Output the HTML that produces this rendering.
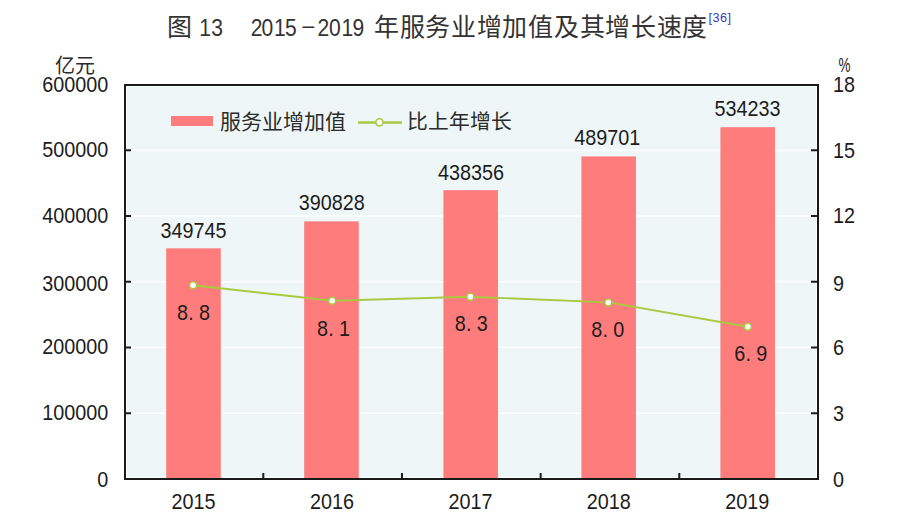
<!DOCTYPE html>
<html lang="zh-CN">
<head>
<meta charset="utf-8">
<title>图 13 2015-2019 年服务业增加值及其增长速度</title>
<style>
html,body{margin:0;padding:0;background:#fff;}
body{width:900px;height:528px;overflow:hidden;font-family:"Liberation Sans",sans-serif;}
svg{display:block;}
.m{font-family:"Liberation Sans",sans-serif;font-size:19.8px;fill:#1c1c1c;stroke:#1c1c1c;stroke-width:0px;}
.cjk{font-family:"Liberation Sans",sans-serif;fill:#2b2b2b;}
</style>
</head>
<body>
<svg width="900" height="528" viewBox="0 0 900 528">
  <g class="cjk" style="fill:#333">
    <text x="167.2" y="36" font-size="25" font-weight="350">图</text>
    <text transform="scale(0.9,1)" x="221.44 234.78" y="36.2 36.2" font-size="23.4">13</text>
    <text transform="scale(0.9,1)" x="278.67 290.67 304.44 316.56 336.11 352.67 365.67 379.44 391.56" y="36.2 36.2 36.2 36.2 32.9 36.2 36.2 36.2 36.2" font-size="23.4">2015–2019</text>

    <text x="374" y="35.5" font-size="25" letter-spacing="0.7" font-weight="350">年服务业增加值及其增长速度</text>
  </g>
  <text x="708.4" y="21.9" font-family="Liberation Sans" font-size="12.6" letter-spacing="0.55" fill="#3636c4">[36]</text>
  <rect x="125" y="85" width="693" height="394" fill="#eef6f8"/>
  <g fill="#ffffff">
    <rect x="126" y="412.65" width="691" height="1.2"/>
    <rect x="126" y="346.90" width="691" height="1.2"/>
    <rect x="126" y="281.15" width="691" height="1.2"/>
    <rect x="126" y="215.40" width="691" height="1.2"/>
    <rect x="126" y="149.65" width="691" height="1.2"/>
  </g>
  <rect x="126.5" y="86.5" width="690" height="391" fill="none" stroke="#ffffff" stroke-width="1"/>
  <g fill="#ff7c7c">
    <rect x="166.20" y="248.33" width="54.6" height="229.67"/>
    <rect x="304.20" y="221.36" width="54.6" height="256.64"/>
    <rect x="443.40" y="190.15" width="54.6" height="287.85"/>
    <rect x="581.40" y="156.43" width="54.6" height="321.57"/>
    <rect x="720.40" y="127.19" width="54.6" height="350.81"/>
  </g>
  <rect x="125" y="85" width="693" height="394" fill="none" stroke="#1a1a1a" stroke-width="2"/>
  <g fill="#1a1a1a">
    <rect x="126" y="412.25" width="5" height="2"/>
    <rect x="811" y="412.25" width="6" height="2"/>
    <rect x="126" y="346.50" width="5" height="2"/>
    <rect x="811" y="346.50" width="6" height="2"/>
    <rect x="126" y="280.75" width="5" height="2"/>
    <rect x="811" y="280.75" width="6" height="2"/>
    <rect x="126" y="215.00" width="5" height="2"/>
    <rect x="811" y="215.00" width="6" height="2"/>
    <rect x="126" y="149.25" width="5" height="2"/>
    <rect x="811" y="149.25" width="6" height="2"/>
    <rect x="262.30" y="473" width="2" height="5"/>
    <rect x="400.97" y="473" width="2" height="5"/>
    <rect x="539.64" y="473" width="2" height="5"/>
    <rect x="678.31" y="473" width="2" height="5"/>
  </g>
  <polyline points="193.10,285.20 332.20,300.80 470.40,296.70 608.30,302.40 747.80,326.70" fill="none" stroke="#a8ca42" stroke-width="1.9" stroke-linejoin="round"/>
  <g fill="#ffffff" stroke="#a8ca42" stroke-width="1.5">
    <circle cx="193.10" cy="285.20" r="3.5"/>
    <circle cx="332.20" cy="300.80" r="3.5"/>
    <circle cx="470.40" cy="296.70" r="3.5"/>
    <circle cx="608.30" cy="302.40" r="3.5"/>
    <circle cx="747.80" cy="326.70" r="3.5"/>
  </g>
  <rect x="171" y="116" width="42" height="10" fill="#ff7c7c"/>
  <text x="220" y="129" font-size="21" class="cjk">服务业增加值</text>
  <line x1="358" y1="122.5" x2="402" y2="122.5" stroke="#a8ca42" stroke-width="2.4"/>
  <circle cx="379.5" cy="122.3" r="3.6" fill="#fff" stroke="#a8ca42" stroke-width="1.6"/>
  <text x="407" y="129" font-size="20.8" class="cjk">比上年增长</text>
  <g class="m">
    <text transform="translate(193.50,237.60) scale(1,1.1)" text-anchor="middle" >349745</text>
    <text transform="translate(331.80,210.20) scale(1,1.1)" text-anchor="middle" >390828</text>
    <text transform="translate(471.00,179.60) scale(1,1.1)" text-anchor="middle" >438356</text>
    <text transform="translate(607.30,144.60) scale(1,1.1)" text-anchor="middle" >489701</text>
    <text transform="translate(747.50,115.60) scale(1,1.1)" text-anchor="middle" >534233</text>
    <g transform="translate(0,319.60) scale(1,1.1)"><text x="177.00 188.20 199.00" y="0">8.8</text></g>
    <g transform="translate(0,335.80) scale(1,1.1)"><text x="317.00 328.20 339.00" y="0">8.1</text></g>
    <g transform="translate(0,331.00) scale(1,1.1)"><text x="454.80 466.00 476.80" y="0">8.3</text></g>
    <g transform="translate(0,337.00) scale(1,1.1)"><text x="591.20 602.40 613.20" y="0">8.0</text></g>
    <g transform="translate(0,361.20) scale(1,1.1)"><text x="734.30 745.50 756.30" y="0">6.9</text></g>
    <text transform="translate(108.30,486.50) scale(1,1.1)" text-anchor="end" >0</text>
    <text transform="translate(108.30,420.45) scale(1,1.1)" text-anchor="end" >100000</text>
    <text transform="translate(108.30,354.45) scale(1,1.1)" text-anchor="end" >200000</text>
    <text transform="translate(108.30,290.50) scale(1,1.1)" text-anchor="end" >300000</text>
    <text transform="translate(108.30,222.95) scale(1,1.1)" text-anchor="end" >400000</text>
    <text transform="translate(108.30,157.20) scale(1,1.1)" text-anchor="end" >500000</text>
    <text transform="translate(108.30,91.70) scale(1,1.1)" text-anchor="end" >600000</text>
    <text transform="translate(833.00,486.50) scale(1,1.1)" text-anchor="start" >0</text>
    <text transform="translate(833.00,420.70) scale(1,1.1)" text-anchor="start" >3</text>
    <text transform="translate(833.00,354.80) scale(1,1.1)" text-anchor="start" >6</text>
    <text transform="translate(833.00,290.50) scale(1,1.1)" text-anchor="start" >9</text>
    <text transform="translate(833.00,223.40) scale(1,1.1)" text-anchor="start" >12</text>
    <text transform="translate(833.00,157.80) scale(1,1.1)" text-anchor="start" >15</text>
    <text transform="translate(833.00,91.70) scale(1,1.1)" text-anchor="start" >18</text>
    <text transform="translate(838.6,72.2) scale(0.68,1.06)">%</text>
    <text transform="translate(193.50,509.00) scale(1,1.1)" text-anchor="middle" >2015</text>
    <text transform="translate(331.95,509.00) scale(1,1.1)" text-anchor="middle" >2016</text>
    <text transform="translate(470.40,509.00) scale(1,1.1)" text-anchor="middle" >2017</text>
    <text transform="translate(608.85,509.00) scale(1,1.1)" text-anchor="middle" >2018</text>
    <text transform="translate(747.30,509.00) scale(1,1.1)" text-anchor="middle" >2019</text>
  </g>
  <text x="55" y="73" font-size="20" class="cjk">亿元</text>
</svg>
</body>
</html>
